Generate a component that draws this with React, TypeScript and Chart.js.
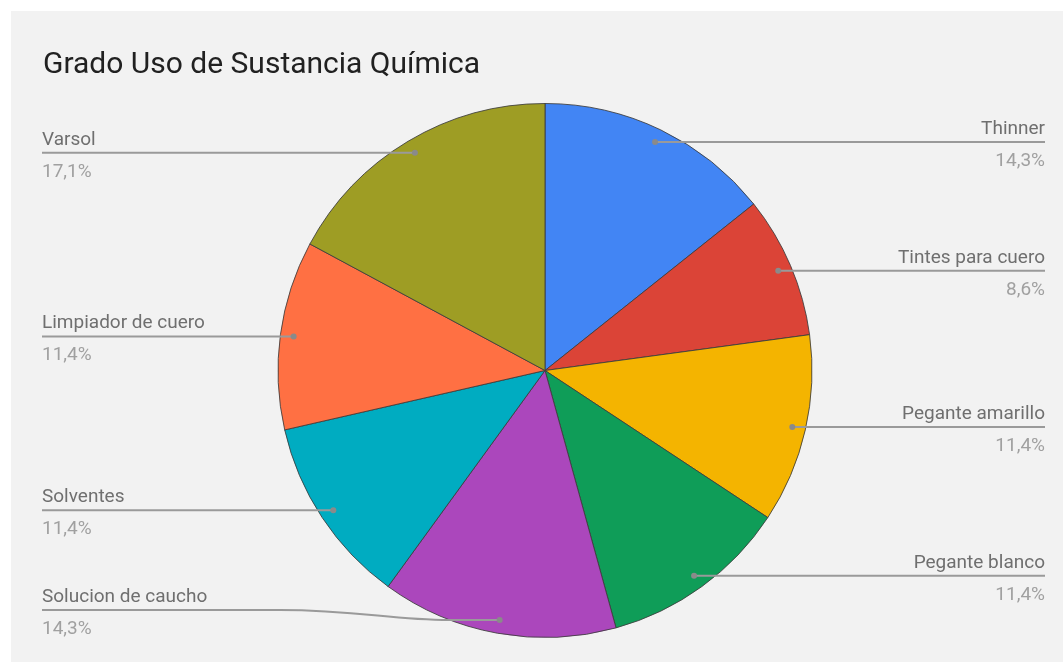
import React, { useEffect, useRef } from "react";
import { Chart, registerables } from "chart.js";

Chart.register(...registerables);

const TITLE = "Grado Uso de Sustancia Química";
const categories = [
  "Thinner",
  "Tintes para cuero",
  "Pegante amarillo",
  "Pegante blanco",
  "Solucion de caucho",
  "Solventes",
  "Limpiador de cuero",
  "Varsol",
];
const counts = [5, 3, 4, 4, 5, 4, 4, 6];
const colors = [
  "#4285f4",
  "#db4437",
  "#f4b400",
  "#0f9d58",
  "#ab47bc",
  "#00acc1",
  "#ff7043",
  "#9e9d24",
];

const FONT = "Roboto, 'Noto Sans', sans-serif";

const labelPlugin = {
  id: "pieLabels",
  afterDatasetsDraw(chart: any) {
    const ctx = chart.ctx as CanvasRenderingContext2D;
    const meta = chart.getDatasetMeta(0);
    const data = chart.data.datasets[0].data as number[];
    const total = data.reduce((a, b) => a + b, 0);
    const W = chart.width;
    const leftX = 31;
    const rightX = W - 18;
    const maxLabelY = 599;

    ctx.save();
    // title
    ctx.font = `30px ${FONT}`;
    ctx.fillStyle = "#212121";
    ctx.textAlign = "left";
    ctx.textBaseline = "alphabetic";
    ctx.fillText(TITLE, 32, 62);

    meta.data.forEach((arc: any, i: number) => {
      const p = arc.getProps(["x", "y", "startAngle", "endAngle", "outerRadius"], true);
      const mid = (p.startAngle + p.endAngle) / 2;
      const r = p.outerRadius * 0.95;
      const dx = p.x + Math.cos(mid) * r;
      const dy = p.y + Math.sin(mid) * r;
      const right = Math.cos(mid) >= 0;
      const ly = Math.min(dy, maxLabelY);

      ctx.strokeStyle = "#9a9a9a";
      ctx.lineWidth = 2;
      ctx.beginPath();
      if (right) {
        ctx.moveTo(dx, dy);
        ctx.lineTo(rightX, ly);
      } else {
        ctx.moveTo(leftX, ly);
        if (Math.abs(ly - dy) > 0.5) {
          ctx.lineTo(dx - 220, ly);
          ctx.bezierCurveTo(dx - 140, ly, dx - 110, dy, dx - 50, dy);
          ctx.lineTo(dx, dy);
        } else {
          ctx.lineTo(dx, dy);
        }
      }
      ctx.stroke();

      ctx.fillStyle = "#8a8a8a";
      ctx.beginPath();
      ctx.arc(dx, dy, 3, 0, Math.PI * 2);
      ctx.fill();

      const pct = ((data[i] / total) * 100).toFixed(1).replace(".", ",") + "%";
      ctx.font = `19px ${FONT}`;
      ctx.textAlign = right ? "right" : "left";
      const tx = right ? rightX : leftX;
      ctx.fillStyle = "#6f6f6f";
      ctx.fillText(chart.data.labels[i], tx, ly - 8);
      ctx.fillStyle = "#a0a0a0";
      ctx.fillText(pct, tx, ly + 24);
    });
    ctx.restore();
  },
};

export default function App() {
  const ref = useRef<HTMLCanvasElement>(null);
  useEffect(() => {
    document.body.style.margin = "0";
    const chart = new Chart(ref.current!, {
      type: "pie",
      data: {
        labels: categories,
        datasets: [
          {
            data: counts,
            backgroundColor: colors,
            borderColor: "rgba(60,60,60,0.85)",
            borderWidth: 1,
          },
        ],
      },
      options: {
        animation: false,
        responsive: false,
        layout: { padding: { top: 92, bottom: 24, left: 100, right: 84 } },
        plugins: {
          legend: { display: false },
          tooltip: { enabled: false },
          title: { display: false },
        },
      },
      plugins: [labelPlugin],
    });
    return () => chart.destroy();
  }, []);
  return (
    <div
      style={{
        position: "fixed",
        left: 11,
        top: 11,
        width: 1052,
        height: 651,
        background: "#f2f2f2",
      }}
    >
      <canvas ref={ref} width={1052} height={651} style={{ display: "block" }} />
    </div>
  );
}
